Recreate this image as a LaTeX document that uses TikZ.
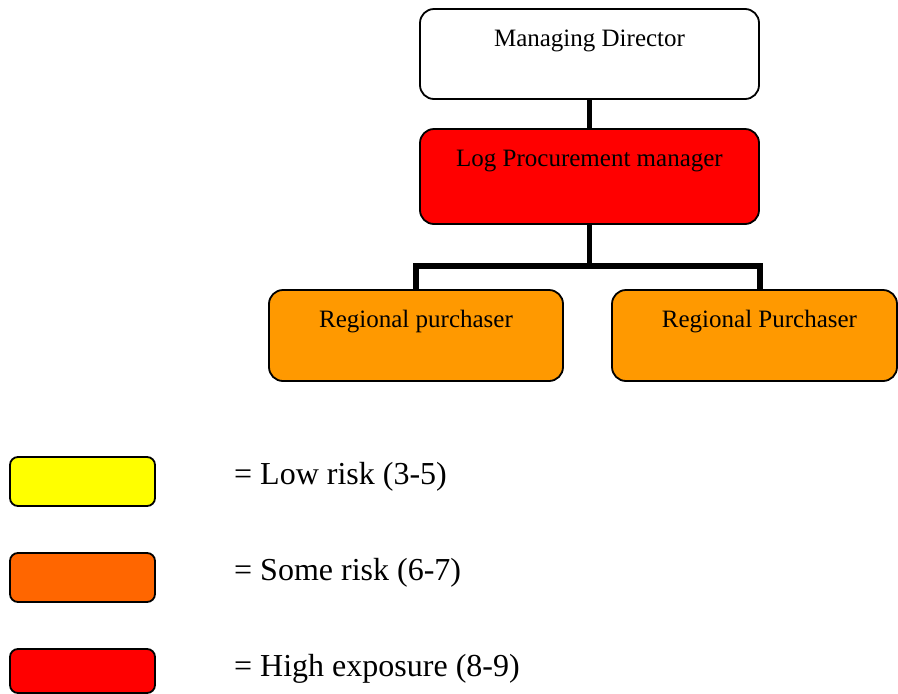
\documentclass[tikz,border=0pt]{standalone}
\usepackage{fontspec}
\setmainfont{Liberation Serif}
\definecolor{riskred}{HTML}{FF0000}
\definecolor{riskorange}{HTML}{FF9900}
\definecolor{keyyellow}{HTML}{FFFF00}
\definecolor{keyorange}{HTML}{FF6600}
\begin{document}
\begin{tikzpicture}[x=1pt,y=-1pt,
  orgbox/.style={draw=black, line width=1.8pt, rounded corners=14pt,
    inner sep=0pt, outer sep=0pt, text height=37pt,
    font=\fontsize{25}{30}\selectfont, anchor=north west},
  keybox/.style={draw=black, line width=1.8pt, rounded corners=8pt,
    inner sep=0pt, outer sep=0pt, minimum width=145pt, anchor=north west},
  keytext/.style={anchor=base west, inner sep=0pt, font=\fontsize{32}{38}\selectfont},
  link/.style={line width=5.5pt, draw=black}]
\useasboundingbox (0,0) rectangle (898,694);

% organisation chart
\node[orgbox, fill=white, minimum width=339pt, text depth=53pt] (md) at (420,9) {Managing Director};
\node[orgbox, fill=riskred, minimum width=339pt, text depth=58pt] (lpm) at (420,129) {Log Procurement manager};
\node[orgbox, fill=riskorange, minimum width=294pt, text depth=54pt] (rp1) at (269,290) {Regional purchaser};
\node[orgbox, fill=riskorange, minimum width=285pt, text depth=54pt] (rp2) at (612,290) {\hspace*{10pt}Regional Purchaser};

% reporting lines
\coordinate (split) at (589.5,266);
\coordinate (lft) at (416,266);
\coordinate (rgt) at (760,266);
\draw[link] (md.south) -- (lpm.north);
\draw[link] (lpm.south) -- (split);
\draw[link, line cap=rect] (lft) -- (rgt);
\draw[link] (lft) -- (lft |- rp1.north);
\draw[link] (rgt) -- (rgt |- rp2.north);

% key
\node[keybox, fill=keyyellow, minimum height=49pt] (ky) at (10,457) {};
\node[keybox, fill=keyorange, minimum height=49pt] (ko) at (10,553) {};
\node[keybox, fill=riskred, minimum height=44pt] (kr) at (10,649) {};
\node[keytext] (ty) at (234,484) {= Low risk (3-5)};
\node[keytext] (to) at (234,580) {= Some risk (6-7)};
\node[keytext] (tr) at (234,676) {= High exposure (8-9)};
\end{tikzpicture}
\end{document}
